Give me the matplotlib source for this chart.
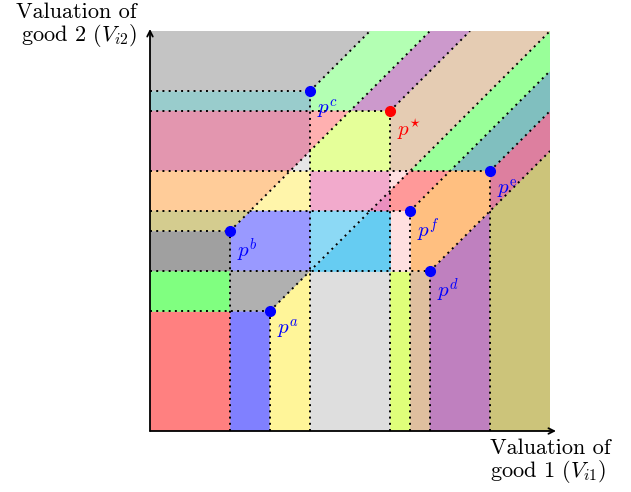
import matplotlib
matplotlib.use("Agg")
import matplotlib.pyplot as plt
from matplotlib.patches import Polygon

plt.rcParams['mathtext.fontset'] = 'cm'

# prices (valuation of good 1, valuation of good 2)
price_names = ["a", "b", "c", "d", "\\mathrm{e}", "f", "\\star"]
price_x = [6, 4, 8, 14, 17, 13, 12]
price_y = [6, 10, 17, 8, 13, 11, 16]
price_colors = ["blue", "blue", "blue", "blue", "blue", "blue", "red"]

# purchase regions of the valuation square
region_vertices = [
    [(0, 0), (4, 0), (4, 6), (0, 6)],
    [(4, 0), (6, 0), (6, 6), (4, 6)],
    [(6, 0), (8, 0), (8, 8), (6, 6)],
    [(8, 0), (12, 0), (12, 8), (8, 8)],
    [(12, 0), (13, 0), (13, 8), (12, 8)],
    [(13, 0), (14, 0), (14, 8), (13, 8)],
    [(14, 0), (17, 0), (17, 11), (14, 8)],
    [(17, 0), (20, 0), (20, 14), (17, 11)],
    [(17, 11), (20, 14), (20, 16), (17, 13)],
    [(15, 13), (17, 13), (20, 16), (20, 18)],
    [(13, 13), (15, 13), (20, 18), (20, 20)],
    [(12, 13), (13, 13), (20, 20), (16, 20), (12, 16)],
    [(10, 16), (12, 16), (16, 20), (14, 20)],
    [(8, 16), (10, 16), (14, 20), (11, 20), (8, 17)],
    [(0, 17), (8, 17), (11, 20), (0, 20)],
    [(0, 16), (8, 16), (8, 17), (0, 17)],
    [(0, 13), (7, 13), (8, 14), (8, 16), (0, 16)],
    [(7, 13), (8, 13), (8, 14)],
    [(8, 14), (10, 16), (8, 16)],
    [(8, 13), (12, 13), (12, 16), (10, 16), (8, 14)],
    [(0, 11), (5, 11), (7, 13), (0, 13)],
    [(5, 11), (8, 11), (8, 13), (7, 13)],
    [(8, 11), (12, 11), (12, 13), (8, 13)],
    [(11, 11), (12, 11), (12, 12)],
    [(12, 12), (13, 13), (12, 13)],
    [(12, 11), (13, 11), (15, 13), (13, 13), (12, 12)],
    [(13, 8), (14, 8), (17, 11), (17, 13), (15, 13), (13, 11)],
    [(12, 8), (13, 8), (13, 11), (12, 11)],
    [(8, 8), (11, 11), (8, 11)],
    [(8, 8), (12, 8), (12, 11), (11, 11)],
    [(4, 8), (8, 8), (8, 11), (5, 11), (4, 10)],
    [(0, 10), (4, 10), (5, 11), (0, 11)],
    [(0, 8), (4, 8), (4, 10), (0, 10)],
    [(0, 6), (4, 6), (4, 8), (0, 8)],
    [(4, 6), (6, 6), (8, 8), (4, 8)],
]
region_colors = [
    "#FF8080", "#8080FF", "#FFF599", "#DEDEDE", "#DFFF7A", "#DFBF9F",
    "#BF80BF", "#CCC47A", "#DD7F9F", "#80BFBF", "#99FF99", "#E5CCB3",
    "#CC99CC", "#B3FFB3", "#C4C4C4", "#99CCCC", "#E396AF", "#E6E6E6",
    "#FFB0B0", "#E5FF99", "#FFCC99", "#FFF5AA", "#F2AACC", "#EB8FBF",
    "#FFE0E0", "#FF9999", "#FFBF80", "#FFE0E0", "#8CD9F5", "#66CCF2",
    "#9999FF", "#D4CC8F", "#A0A0A0", "#80FF80", "#B0B0B0",
]

# dotted boundaries: (x0, y0, x1, y1)
boundaries = [
    (0, 17, 8, 17), (0, 16, 12, 16), (0, 13, 17, 13), (0, 11, 13, 11),
    (0, 10, 4, 10), (0, 8, 14, 8), (0, 6, 6, 6),
    (4, 0, 4, 10), (6, 0, 6, 6), (8, 0, 8, 17), (12, 0, 12, 16),
    (13, 0, 13, 11), (14, 0, 14, 8), (17, 0, 17, 13),
    (8, 17, 11, 20), (4, 10, 14, 20), (12, 16, 16, 20), (6, 6, 20, 20),
    (13, 11, 20, 18), (17, 13, 20, 16), (14, 8, 20, 14),
]

fig = plt.figure(figsize=(6.31, 4.92), dpi=100)
ax = fig.add_axes([150 / 631, 61 / 492, 400 / 631, 400 / 492])
ax.set_xlim(0, 20)
ax.set_ylim(0, 20)
ax.axis("off")

for verts, col in zip(region_vertices, region_colors):
    ax.add_patch(Polygon(verts, closed=True, facecolor=col, edgecolor=col, linewidth=0.4))

for x0, y0, x1, y1 in boundaries:
    ax.plot([x0, x1], [y0, y1], color="black", linestyle=(0, (1, 2.2)), linewidth=1.4)

# axes with arrow heads
ax.annotate("", xy=(20.3, 0), xytext=(0, 0),
            arrowprops=dict(arrowstyle="->", color="black", lw=1.3, shrinkA=0, shrinkB=0),
            annotation_clip=False)
ax.annotate("", xy=(0, 20.1), xytext=(0, 0),
            arrowprops=dict(arrowstyle="->", color="black", lw=1.3, shrinkA=0, shrinkB=0),
            annotation_clip=False)

for name, px, py, col in zip(price_names, price_x, price_y, price_colors):
    ax.plot(px, py, "o", color=col, markersize=7, zorder=5)
    ax.annotate("$p^{%s}$" % name, xy=(px, py), xytext=(7, -6), textcoords="offset pixels",
                ha="left", va="top", color=col, fontsize=15)

fig.text(137 / 631, 1 - 2 / 492, "Valuation of\ngood 2 ($V_{i2}$)", ha="right", va="top",
         fontsize=16, family="cmr10", linespacing=1.05)
fig.text(490 / 631, 1 - 438 / 492, "Valuation of\ngood 1 ($V_{i1}$)", ha="left", va="top",
         fontsize=16, family="cmr10", linespacing=1.05)

fig.savefig("out.png", dpi=100)
